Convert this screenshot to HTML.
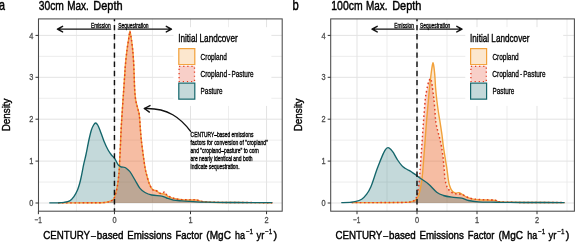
<!DOCTYPE html>
<html><head><meta charset="utf-8"><title>CENTURY-based Emissions Factor density</title>
<style>
html,body{margin:0;padding:0;background:#fff;}
body{width:575px;height:243px;overflow:hidden;font-family:"Liberation Sans",sans-serif;}
svg{display:block;filter:opacity(0.9999);}
text{font-family:"Liberation Sans",sans-serif;}
</style></head><body>
<svg width="575" height="243" viewBox="0 0 575 243" font-family='"Liberation Sans", sans-serif'>
<rect width="575" height="243" fill="#fff"/>
<g>
<g>
<rect x="38.50" y="18.90" width="243.70" height="192.30" fill="#fff"/>
<line x1="38.50" x2="282.20" y1="182.05" y2="182.05" stroke="#E9E9E9" stroke-width="0.8"/>
<line x1="38.50" x2="282.20" y1="140.15" y2="140.15" stroke="#E9E9E9" stroke-width="0.8"/>
<line x1="38.50" x2="282.20" y1="98.25" y2="98.25" stroke="#E9E9E9" stroke-width="0.8"/>
<line x1="38.50" x2="282.20" y1="56.35" y2="56.35" stroke="#E9E9E9" stroke-width="0.8"/>
<line x1="76.43" x2="76.43" y1="18.90" y2="211.20" stroke="#E9E9E9" stroke-width="0.8"/>
<line x1="152.47" x2="152.47" y1="18.90" y2="211.20" stroke="#E9E9E9" stroke-width="0.8"/>
<line x1="228.52" x2="228.52" y1="18.90" y2="211.20" stroke="#E9E9E9" stroke-width="0.8"/>
<line x1="38.50" x2="282.20" y1="203.00" y2="203.00" stroke="#E3E3E3" stroke-width="1"/>
<line x1="38.50" x2="282.20" y1="161.10" y2="161.10" stroke="#E3E3E3" stroke-width="1"/>
<line x1="38.50" x2="282.20" y1="119.20" y2="119.20" stroke="#E3E3E3" stroke-width="1"/>
<line x1="38.50" x2="282.20" y1="77.30" y2="77.30" stroke="#E3E3E3" stroke-width="1"/>
<line x1="38.50" x2="282.20" y1="35.40" y2="35.40" stroke="#E3E3E3" stroke-width="1"/>
<line x1="38.40" x2="38.40" y1="18.90" y2="211.20" stroke="#E3E3E3" stroke-width="1"/>
<line x1="114.45" x2="114.45" y1="18.90" y2="211.20" stroke="#E3E3E3" stroke-width="1"/>
<line x1="190.50" x2="190.50" y1="18.90" y2="211.20" stroke="#E3E3E3" stroke-width="1"/>
<line x1="266.55" x2="266.55" y1="18.90" y2="211.20" stroke="#E3E3E3" stroke-width="1"/>
<path d="M58.00,202.90 C63.33,202.88 82.20,202.87 90.00,202.80 C97.80,202.73 101.33,202.82 104.80,202.50 C108.27,202.18 109.27,201.57 110.80,200.90 C112.33,200.23 113.03,200.32 114.00,198.50 C114.97,196.68 115.97,192.53 116.60,190.00 C117.23,187.47 117.45,185.63 117.80,183.30 C118.15,180.97 118.47,178.22 118.70,176.00 C118.93,173.78 118.95,174.33 119.20,170.00 C119.45,165.67 119.88,156.67 120.20,150.00 C120.52,143.33 120.80,135.83 121.10,130.00 C121.40,124.17 121.68,120.00 122.00,115.00 C122.32,110.00 122.72,104.17 123.00,100.00 C123.28,95.83 123.43,93.88 123.70,90.00 C123.97,86.12 124.32,80.87 124.60,76.70 C124.88,72.53 125.00,69.45 125.40,65.00 C125.80,60.55 126.48,54.17 127.00,50.00 C127.52,45.83 128.08,42.83 128.50,40.00 C128.92,37.17 129.26,34.50 129.50,33.00 C129.74,31.50 129.80,31.00 129.95,31.00 C130.10,31.00 130.14,31.50 130.40,33.00 C130.66,34.50 131.12,37.17 131.50,40.00 C131.88,42.83 132.35,46.33 132.70,50.00 C133.05,53.67 133.35,57.55 133.60,62.00 C133.85,66.45 134.02,72.03 134.20,76.70 C134.38,81.37 134.45,86.12 134.70,90.00 C134.95,93.88 135.22,97.00 135.70,100.00 C136.18,103.00 137.00,105.50 137.60,108.00 C138.20,110.50 138.85,111.67 139.30,115.00 C139.75,118.33 139.97,123.83 140.30,128.00 C140.63,132.17 140.82,135.50 141.30,140.00 C141.78,144.50 142.57,150.33 143.20,155.00 C143.83,159.67 144.52,164.67 145.10,168.00 C145.68,171.33 146.02,172.43 146.70,175.00 C147.38,177.57 148.22,180.97 149.20,183.40 C150.18,185.83 151.33,188.35 152.60,189.60 C153.87,190.85 155.68,190.30 156.80,190.90 C157.92,191.50 157.93,192.62 159.30,193.20 C160.67,193.78 163.48,193.82 165.00,194.40 C166.52,194.98 166.98,196.03 168.40,196.70 C169.82,197.37 171.27,197.88 173.50,198.40 C175.73,198.92 178.88,199.53 181.80,199.80 C184.72,200.07 188.63,199.97 191.00,200.00 C193.37,200.03 194.20,199.77 196.00,200.00 C197.80,200.23 199.47,201.03 201.80,201.40 C204.13,201.77 204.30,202.02 210.00,202.20 C215.70,202.38 225.62,202.42 236.00,202.50 C246.38,202.58 266.25,202.67 272.30,202.70 L272.30,203.00 L58.00,203.00 Z" fill="#F2A13A" fill-opacity="0.25" stroke="none"/>
<path d="M58.00,202.90 C63.33,202.88 82.20,202.87 90.00,202.80 C97.80,202.73 101.33,202.82 104.80,202.50 C108.27,202.18 109.27,201.57 110.80,200.90 C112.33,200.23 113.03,200.32 114.00,198.50 C114.97,196.68 115.97,192.53 116.60,190.00 C117.23,187.47 117.45,185.63 117.80,183.30 C118.15,180.97 118.47,178.22 118.70,176.00 C118.93,173.78 118.95,174.33 119.20,170.00 C119.45,165.67 119.88,156.67 120.20,150.00 C120.52,143.33 120.80,135.83 121.10,130.00 C121.40,124.17 121.68,120.00 122.00,115.00 C122.32,110.00 122.72,104.17 123.00,100.00 C123.28,95.83 123.43,93.88 123.70,90.00 C123.97,86.12 124.32,80.87 124.60,76.70 C124.88,72.53 125.00,69.45 125.40,65.00 C125.80,60.55 126.48,54.17 127.00,50.00 C127.52,45.83 128.08,42.75 128.50,40.00 C128.92,37.25 129.26,34.90 129.50,33.50 C129.74,32.10 129.80,31.60 129.95,31.60 C130.10,31.60 130.14,32.10 130.40,33.50 C130.66,34.90 131.12,37.25 131.50,40.00 C131.88,42.75 132.35,46.33 132.70,50.00 C133.05,53.67 133.35,57.55 133.60,62.00 C133.85,66.45 134.02,72.03 134.20,76.70 C134.38,81.37 134.45,86.12 134.70,90.00 C134.95,93.88 135.22,97.00 135.70,100.00 C136.18,103.00 137.00,105.50 137.60,108.00 C138.20,110.50 138.85,111.67 139.30,115.00 C139.75,118.33 139.97,123.83 140.30,128.00 C140.63,132.17 140.82,135.50 141.30,140.00 C141.78,144.50 142.57,150.33 143.20,155.00 C143.83,159.67 144.52,164.67 145.10,168.00 C145.68,171.33 146.02,172.43 146.70,175.00 C147.38,177.57 148.27,180.98 149.20,183.40 C150.13,185.82 151.33,188.43 152.30,189.50 C153.27,190.57 154.05,189.38 155.00,189.80 C155.95,190.22 156.92,191.37 158.00,192.00 C159.08,192.63 160.38,193.62 161.50,193.60 C162.62,193.58 163.70,191.58 164.70,191.90 C165.70,192.22 166.03,194.45 167.50,195.50 C168.97,196.55 171.12,197.52 173.50,198.20 C175.88,198.88 178.88,199.33 181.80,199.60 C184.72,199.87 188.63,199.77 191.00,199.80 C193.37,199.83 194.20,199.53 196.00,199.80 C197.80,200.07 199.47,201.00 201.80,201.40 C204.13,201.80 204.30,202.02 210.00,202.20 C215.70,202.38 225.62,202.42 236.00,202.50 C246.38,202.58 266.25,202.67 272.30,202.70 L272.30,203.00 L58.00,203.00 Z" fill="#E23E22" fill-opacity="0.25" stroke="none"/>
<path d="M49.30,202.90 C50.75,202.88 55.55,202.88 58.00,202.80 C60.45,202.72 62.05,202.72 64.00,202.40 C65.95,202.08 68.05,201.85 69.70,200.90 C71.35,199.95 72.60,198.52 73.90,196.70 C75.20,194.88 76.53,192.23 77.50,190.00 C78.47,187.77 79.08,185.47 79.70,183.30 C80.32,181.13 80.50,180.32 81.20,177.00 C81.90,173.68 83.10,167.15 83.90,163.40 C84.70,159.65 85.17,158.40 86.00,154.50 C86.83,150.60 88.00,144.08 88.90,140.00 C89.80,135.92 90.62,132.50 91.40,130.00 C92.18,127.50 92.90,126.17 93.60,125.00 C94.30,123.83 94.92,123.00 95.60,123.00 C96.28,123.00 96.98,123.83 97.70,125.00 C98.42,126.17 98.85,127.30 99.90,130.00 C100.95,132.70 102.63,137.87 104.00,141.20 C105.37,144.53 106.85,147.70 108.10,150.00 C109.35,152.30 110.38,153.57 111.50,155.00 C112.62,156.43 113.65,156.90 114.80,158.60 C115.95,160.30 117.28,163.80 118.40,165.20 C119.52,166.60 120.40,166.62 121.50,167.00 C122.60,167.38 123.83,166.95 125.00,167.50 C126.17,168.05 127.58,169.47 128.50,170.30 C129.42,171.13 129.42,170.88 130.50,172.50 C131.58,174.12 133.42,177.35 135.00,180.00 C136.58,182.65 138.33,186.32 140.00,188.40 C141.67,190.48 143.03,191.40 145.00,192.50 C146.97,193.60 149.00,194.40 151.80,195.00 C154.60,195.60 159.32,195.60 161.80,196.10 C164.28,196.60 164.77,197.33 166.70,198.00 C168.63,198.67 170.88,199.62 173.40,200.10 C175.92,200.58 179.03,200.68 181.80,200.90 C184.57,201.12 185.83,201.18 190.00,201.40 C194.17,201.62 199.13,202.02 206.80,202.20 C214.47,202.38 225.08,202.42 236.00,202.50 C246.92,202.58 266.25,202.67 272.30,202.70 L272.30,203.00 L49.30,203.00 Z" fill="#14666B" fill-opacity="0.25" stroke="none"/>
<path d="M58.00,202.90 C63.33,202.88 82.20,202.87 90.00,202.80 C97.80,202.73 101.33,202.82 104.80,202.50 C108.27,202.18 109.27,201.57 110.80,200.90 C112.33,200.23 113.03,200.32 114.00,198.50 C114.97,196.68 115.97,192.53 116.60,190.00 C117.23,187.47 117.45,185.63 117.80,183.30 C118.15,180.97 118.47,178.22 118.70,176.00 C118.93,173.78 118.95,174.33 119.20,170.00 C119.45,165.67 119.88,156.67 120.20,150.00 C120.52,143.33 120.80,135.83 121.10,130.00 C121.40,124.17 121.68,120.00 122.00,115.00 C122.32,110.00 122.72,104.17 123.00,100.00 C123.28,95.83 123.43,93.88 123.70,90.00 C123.97,86.12 124.32,80.87 124.60,76.70 C124.88,72.53 125.00,69.45 125.40,65.00 C125.80,60.55 126.48,54.17 127.00,50.00 C127.52,45.83 128.08,42.83 128.50,40.00 C128.92,37.17 129.26,34.50 129.50,33.00 C129.74,31.50 129.80,31.00 129.95,31.00 C130.10,31.00 130.14,31.50 130.40,33.00 C130.66,34.50 131.12,37.17 131.50,40.00 C131.88,42.83 132.35,46.33 132.70,50.00 C133.05,53.67 133.35,57.55 133.60,62.00 C133.85,66.45 134.02,72.03 134.20,76.70 C134.38,81.37 134.45,86.12 134.70,90.00 C134.95,93.88 135.22,97.00 135.70,100.00 C136.18,103.00 137.00,105.50 137.60,108.00 C138.20,110.50 138.85,111.67 139.30,115.00 C139.75,118.33 139.97,123.83 140.30,128.00 C140.63,132.17 140.82,135.50 141.30,140.00 C141.78,144.50 142.57,150.33 143.20,155.00 C143.83,159.67 144.52,164.67 145.10,168.00 C145.68,171.33 146.02,172.43 146.70,175.00 C147.38,177.57 148.22,180.97 149.20,183.40 C150.18,185.83 151.33,188.35 152.60,189.60 C153.87,190.85 155.68,190.30 156.80,190.90 C157.92,191.50 157.93,192.62 159.30,193.20 C160.67,193.78 163.48,193.82 165.00,194.40 C166.52,194.98 166.98,196.03 168.40,196.70 C169.82,197.37 171.27,197.88 173.50,198.40 C175.73,198.92 178.88,199.53 181.80,199.80 C184.72,200.07 188.63,199.97 191.00,200.00 C193.37,200.03 194.20,199.77 196.00,200.00 C197.80,200.23 199.47,201.03 201.80,201.40 C204.13,201.77 204.30,202.02 210.00,202.20 C215.70,202.38 225.62,202.42 236.00,202.50 C246.38,202.58 266.25,202.67 272.30,202.70" fill="none" stroke="#F2A13A" stroke-width="1.40" stroke-linejoin="round"/>
<path d="M58.00,202.90 C63.33,202.88 82.20,202.87 90.00,202.80 C97.80,202.73 101.33,202.82 104.80,202.50 C108.27,202.18 109.27,201.57 110.80,200.90 C112.33,200.23 113.03,200.32 114.00,198.50 C114.97,196.68 115.97,192.53 116.60,190.00 C117.23,187.47 117.45,185.63 117.80,183.30 C118.15,180.97 118.47,178.22 118.70,176.00 C118.93,173.78 118.95,174.33 119.20,170.00 C119.45,165.67 119.88,156.67 120.20,150.00 C120.52,143.33 120.80,135.83 121.10,130.00 C121.40,124.17 121.68,120.00 122.00,115.00 C122.32,110.00 122.72,104.17 123.00,100.00 C123.28,95.83 123.43,93.88 123.70,90.00 C123.97,86.12 124.32,80.87 124.60,76.70 C124.88,72.53 125.00,69.45 125.40,65.00 C125.80,60.55 126.48,54.17 127.00,50.00 C127.52,45.83 128.08,42.75 128.50,40.00 C128.92,37.25 129.26,34.90 129.50,33.50 C129.74,32.10 129.80,31.60 129.95,31.60 C130.10,31.60 130.14,32.10 130.40,33.50 C130.66,34.90 131.12,37.25 131.50,40.00 C131.88,42.75 132.35,46.33 132.70,50.00 C133.05,53.67 133.35,57.55 133.60,62.00 C133.85,66.45 134.02,72.03 134.20,76.70 C134.38,81.37 134.45,86.12 134.70,90.00 C134.95,93.88 135.22,97.00 135.70,100.00 C136.18,103.00 137.00,105.50 137.60,108.00 C138.20,110.50 138.85,111.67 139.30,115.00 C139.75,118.33 139.97,123.83 140.30,128.00 C140.63,132.17 140.82,135.50 141.30,140.00 C141.78,144.50 142.57,150.33 143.20,155.00 C143.83,159.67 144.52,164.67 145.10,168.00 C145.68,171.33 146.02,172.43 146.70,175.00 C147.38,177.57 148.27,180.98 149.20,183.40 C150.13,185.82 151.33,188.43 152.30,189.50 C153.27,190.57 154.05,189.38 155.00,189.80 C155.95,190.22 156.92,191.37 158.00,192.00 C159.08,192.63 160.38,193.62 161.50,193.60 C162.62,193.58 163.70,191.58 164.70,191.90 C165.70,192.22 166.03,194.45 167.50,195.50 C168.97,196.55 171.12,197.52 173.50,198.20 C175.88,198.88 178.88,199.33 181.80,199.60 C184.72,199.87 188.63,199.77 191.00,199.80 C193.37,199.83 194.20,199.53 196.00,199.80 C197.80,200.07 199.47,201.00 201.80,201.40 C204.13,201.80 204.30,202.02 210.00,202.20 C215.70,202.38 225.62,202.42 236.00,202.50 C246.38,202.58 266.25,202.67 272.30,202.70" fill="none" stroke="#E23E22" stroke-width="1.45" stroke-dasharray="1.6 2.5"/>
<path d="M49.30,202.90 C50.75,202.88 55.55,202.88 58.00,202.80 C60.45,202.72 62.05,202.72 64.00,202.40 C65.95,202.08 68.05,201.85 69.70,200.90 C71.35,199.95 72.60,198.52 73.90,196.70 C75.20,194.88 76.53,192.23 77.50,190.00 C78.47,187.77 79.08,185.47 79.70,183.30 C80.32,181.13 80.50,180.32 81.20,177.00 C81.90,173.68 83.10,167.15 83.90,163.40 C84.70,159.65 85.17,158.40 86.00,154.50 C86.83,150.60 88.00,144.08 88.90,140.00 C89.80,135.92 90.62,132.50 91.40,130.00 C92.18,127.50 92.90,126.17 93.60,125.00 C94.30,123.83 94.92,123.00 95.60,123.00 C96.28,123.00 96.98,123.83 97.70,125.00 C98.42,126.17 98.85,127.30 99.90,130.00 C100.95,132.70 102.63,137.87 104.00,141.20 C105.37,144.53 106.85,147.70 108.10,150.00 C109.35,152.30 110.38,153.57 111.50,155.00 C112.62,156.43 113.65,156.90 114.80,158.60 C115.95,160.30 117.28,163.80 118.40,165.20 C119.52,166.60 120.40,166.62 121.50,167.00 C122.60,167.38 123.83,166.95 125.00,167.50 C126.17,168.05 127.58,169.47 128.50,170.30 C129.42,171.13 129.42,170.88 130.50,172.50 C131.58,174.12 133.42,177.35 135.00,180.00 C136.58,182.65 138.33,186.32 140.00,188.40 C141.67,190.48 143.03,191.40 145.00,192.50 C146.97,193.60 149.00,194.40 151.80,195.00 C154.60,195.60 159.32,195.60 161.80,196.10 C164.28,196.60 164.77,197.33 166.70,198.00 C168.63,198.67 170.88,199.62 173.40,200.10 C175.92,200.58 179.03,200.68 181.80,200.90 C184.57,201.12 185.83,201.18 190.00,201.40 C194.17,201.62 199.13,202.02 206.80,202.20 C214.47,202.38 225.08,202.42 236.00,202.50 C246.92,202.58 266.25,202.67 272.30,202.70" fill="none" stroke="#14666B" stroke-width="1.35" stroke-linejoin="round"/>
<line x1="114.45" x2="114.45" y1="18.90" y2="211.20" stroke="#111" stroke-width="1.45" stroke-dasharray="5.4 3.76" stroke-dashoffset="3.1"/>
<g stroke="#111" stroke-width="1.4" fill="none" stroke-linecap="round" stroke-linejoin="round">
<path d="M110.65,29.10 L57.41,29.10 M62.61,26.30 L57.41,29.10 L62.61,31.90"/>
<path d="M118.25,29.10 L171.49,29.10 M166.29,26.30 L171.49,29.10 L166.29,31.90"/>
</g>
<text transform="translate(90.95,27.80) scale(0.7587,1)" font-size="6.40" fill="#000" stroke="#000" stroke-width="0.30" stroke-linejoin="round">Emission</text>
<text transform="translate(118.25,27.80) scale(0.7697,1)" font-size="6.40" fill="#000" stroke="#000" stroke-width="0.30" stroke-linejoin="round">Sequestration</text>
<rect x="173.50" y="27.2" width="97.9" height="78.7" fill="#fff"/>
<text transform="translate(178.20,41.80) scale(0.7509,1)" font-size="10.90" fill="#000" stroke="#000" stroke-width="0.37" stroke-linejoin="round">Initial Landcover</text>
<rect x="178.20" y="48.00" width="17.2" height="17.25" fill="#fff"/>
<rect x="178.80" y="48.60" width="16.0" height="16.05" fill="#F2A13A" fill-opacity="0.25" stroke="none"/>
<rect x="178.80" y="48.60" width="16.0" height="16.05" fill="none" stroke="#F2A13A" stroke-width="1.2"/>
<text transform="translate(200.60,59.90) scale(0.7449,1)" font-size="8.70" fill="#000" stroke="#000" stroke-width="0.30" stroke-linejoin="round">Cropland</text>
<rect x="178.20" y="65.25" width="17.2" height="17.25" fill="#fff"/>
<rect x="178.80" y="65.85" width="16.0" height="16.05" fill="#E23E22" fill-opacity="0.25" stroke="none"/>
<rect x="179.10" y="66.45" width="15.4" height="15.1" fill="none" stroke="#E23E22" stroke-width="1.3" stroke-dasharray="1.2 2.9"/>
<text transform="translate(200.40,77.15) scale(0.7563,1)" font-size="8.70" fill="#000" stroke="#000" stroke-width="0.30" stroke-linejoin="round">Cropland</text>
<text transform="translate(228.20,77.15) scale(0.7594,1)" font-size="8.70" fill="#000" stroke="#000" stroke-width="0.30" stroke-linejoin="round">-</text>
<text transform="translate(231.50,77.15) scale(0.7405,1)" font-size="8.70" fill="#000" stroke="#000" stroke-width="0.30" stroke-linejoin="round">Pasture</text>
<rect x="178.20" y="82.50" width="17.2" height="17.25" fill="#fff"/>
<rect x="178.80" y="83.10" width="16.0" height="16.05" fill="#14666B" fill-opacity="0.25" stroke="none"/>
<rect x="178.80" y="83.10" width="16.0" height="16.05" fill="none" stroke="#14666B" stroke-width="1.2"/>
<text transform="translate(200.60,94.40) scale(0.7338,1)" font-size="8.70" fill="#000" stroke="#000" stroke-width="0.30" stroke-linejoin="round">Pasture</text>
<rect x="38.50" y="18.90" width="243.70" height="192.30" fill="none" stroke="#4A4A4A" stroke-width="1.05"/>
<line x1="35.50" x2="38.50" y1="203.00" y2="203.00" stroke="#333" stroke-width="1"/>
<text transform="translate(29.20,206.15) scale(0.8103,1)" font-size="9.10" fill="#4D4D4D" stroke="#4D4D4D" stroke-width="0.31" stroke-linejoin="round">0</text>
<line x1="35.50" x2="38.50" y1="161.10" y2="161.10" stroke="#333" stroke-width="1"/>
<text transform="translate(29.20,164.25) scale(0.8103,1)" font-size="9.10" fill="#4D4D4D" stroke="#4D4D4D" stroke-width="0.31" stroke-linejoin="round">1</text>
<line x1="35.50" x2="38.50" y1="119.20" y2="119.20" stroke="#333" stroke-width="1"/>
<text transform="translate(29.20,122.35) scale(0.8103,1)" font-size="9.10" fill="#4D4D4D" stroke="#4D4D4D" stroke-width="0.31" stroke-linejoin="round">2</text>
<line x1="35.50" x2="38.50" y1="77.30" y2="77.30" stroke="#333" stroke-width="1"/>
<text transform="translate(29.20,80.45) scale(0.8103,1)" font-size="9.10" fill="#4D4D4D" stroke="#4D4D4D" stroke-width="0.31" stroke-linejoin="round">3</text>
<line x1="35.50" x2="38.50" y1="35.40" y2="35.40" stroke="#333" stroke-width="1"/>
<text transform="translate(29.20,38.55) scale(0.8103,1)" font-size="9.10" fill="#4D4D4D" stroke="#4D4D4D" stroke-width="0.31" stroke-linejoin="round">4</text>
<line x1="38.40" x2="38.40" y1="211.20" y2="214.20" stroke="#333" stroke-width="1"/>
<text transform="translate(34.40,223.20) scale(0.7133,1)" font-size="9.10" fill="#4D4D4D" stroke="#4D4D4D" stroke-width="0.31" stroke-linejoin="round">−1</text>
<line x1="114.45" x2="114.45" y1="211.20" y2="214.20" stroke="#333" stroke-width="1"/>
<text transform="translate(112.40,223.20) scale(0.8103,1)" font-size="9.10" fill="#4D4D4D" stroke="#4D4D4D" stroke-width="0.31" stroke-linejoin="round">0</text>
<line x1="190.50" x2="190.50" y1="211.20" y2="214.20" stroke="#333" stroke-width="1"/>
<text transform="translate(188.45,223.20) scale(0.8103,1)" font-size="9.10" fill="#4D4D4D" stroke="#4D4D4D" stroke-width="0.31" stroke-linejoin="round">1</text>
<line x1="266.55" x2="266.55" y1="211.20" y2="214.20" stroke="#333" stroke-width="1"/>
<text transform="translate(264.50,223.20) scale(0.8103,1)" font-size="9.10" fill="#4D4D4D" stroke="#4D4D4D" stroke-width="0.31" stroke-linejoin="round">2</text>
<text transform="translate(38.75,10.05) scale(0.7793,1)" font-size="13.20" fill="#000" stroke="#000" stroke-width="0.45" stroke-linejoin="round">30cm</text>
<text transform="translate(67.30,10.05) scale(0.7516,1)" font-size="13.20" fill="#000" stroke="#000" stroke-width="0.45" stroke-linejoin="round">Max.</text>
<text transform="translate(93.30,10.05) scale(0.8320,1)" font-size="13.20" fill="#000" stroke="#000" stroke-width="0.45" stroke-linejoin="round">Depth</text>
<text transform="translate(43.30,239.30) scale(0.8526,1)" font-size="11.40" fill="#000" stroke="#000" stroke-width="0.42" stroke-linejoin="round">CENTURY</text>
<text transform="translate(91.00,239.30) scale(0.7731,1)" font-size="11.40" fill="#000" stroke="#000" stroke-width="0.42" stroke-linejoin="round">–</text>
<text transform="translate(96.80,239.30) scale(0.8595,1)" font-size="11.40" fill="#000" stroke="#000" stroke-width="0.42" stroke-linejoin="round">based</text>
<text transform="translate(127.20,239.30) scale(0.8566,1)" font-size="11.40" fill="#000" stroke="#000" stroke-width="0.42" stroke-linejoin="round">Emissions</text>
<text transform="translate(175.50,239.30) scale(0.8295,1)" font-size="11.40" fill="#000" stroke="#000" stroke-width="0.42" stroke-linejoin="round">Factor</text>
<text transform="translate(206.30,239.30) scale(0.8829,1)" font-size="11.40" fill="#000" stroke="#000" stroke-width="0.42" stroke-linejoin="round">(MgC</text>
<text transform="translate(235.10,239.30) scale(0.7881,1)" font-size="11.40" fill="#000" stroke="#000" stroke-width="0.42" stroke-linejoin="round">ha</text>
<text transform="translate(245.90,233.50) scale(0.8097,1)" font-size="7.80" fill="#000" stroke="#000" stroke-width="0.30" stroke-linejoin="round">−1</text>
<text transform="translate(256.40,239.30) scale(0.8319,1)" font-size="11.40" fill="#000" stroke="#000" stroke-width="0.42" stroke-linejoin="round">yr</text>
<text transform="translate(265.10,233.50) scale(0.8097,1)" font-size="7.80" fill="#000" stroke="#000" stroke-width="0.30" stroke-linejoin="round">−1</text>
<text transform="translate(273.50,239.30) scale(0.9483,1)" font-size="11.40" fill="#000" stroke="#000" stroke-width="0.42" stroke-linejoin="round">)</text>
<text transform="translate(10.10,114.90) rotate(-90)" font-size="11.4" fill="#000" text-anchor="middle" textLength="32.8" lengthAdjust="spacingAndGlyphs" stroke="#000" stroke-width="0.4">Density</text>
</g>
<g>
<rect x="330.70" y="18.90" width="243.70" height="192.30" fill="#fff"/>
<line x1="330.70" x2="574.40" y1="182.05" y2="182.05" stroke="#E9E9E9" stroke-width="0.8"/>
<line x1="330.70" x2="574.40" y1="140.15" y2="140.15" stroke="#E9E9E9" stroke-width="0.8"/>
<line x1="330.70" x2="574.40" y1="98.25" y2="98.25" stroke="#E9E9E9" stroke-width="0.8"/>
<line x1="330.70" x2="574.40" y1="56.35" y2="56.35" stroke="#E9E9E9" stroke-width="0.8"/>
<line x1="387.00" x2="387.00" y1="18.90" y2="211.20" stroke="#E9E9E9" stroke-width="0.8"/>
<line x1="447.00" x2="447.00" y1="18.90" y2="211.20" stroke="#E9E9E9" stroke-width="0.8"/>
<line x1="507.00" x2="507.00" y1="18.90" y2="211.20" stroke="#E9E9E9" stroke-width="0.8"/>
<line x1="567.00" x2="567.00" y1="18.90" y2="211.20" stroke="#E9E9E9" stroke-width="0.8"/>
<line x1="330.70" x2="574.40" y1="203.00" y2="203.00" stroke="#E3E3E3" stroke-width="1"/>
<line x1="330.70" x2="574.40" y1="161.10" y2="161.10" stroke="#E3E3E3" stroke-width="1"/>
<line x1="330.70" x2="574.40" y1="119.20" y2="119.20" stroke="#E3E3E3" stroke-width="1"/>
<line x1="330.70" x2="574.40" y1="77.30" y2="77.30" stroke="#E3E3E3" stroke-width="1"/>
<line x1="330.70" x2="574.40" y1="35.40" y2="35.40" stroke="#E3E3E3" stroke-width="1"/>
<line x1="357.00" x2="357.00" y1="18.90" y2="211.20" stroke="#E3E3E3" stroke-width="1"/>
<line x1="417.00" x2="417.00" y1="18.90" y2="211.20" stroke="#E3E3E3" stroke-width="1"/>
<line x1="477.00" x2="477.00" y1="18.90" y2="211.20" stroke="#E3E3E3" stroke-width="1"/>
<line x1="537.00" x2="537.00" y1="18.90" y2="211.20" stroke="#E3E3E3" stroke-width="1"/>
<path d="M351.70,202.60 C356.42,202.60 371.12,202.63 380.00,202.60 C388.88,202.57 399.98,202.52 405.00,202.40 C410.02,202.28 408.70,202.10 410.10,201.90 C411.50,201.70 412.42,201.62 413.40,201.20 C414.38,200.78 415.20,200.18 416.00,199.40 C416.80,198.62 417.60,197.73 418.20,196.50 C418.80,195.27 419.15,193.75 419.60,192.00 C420.05,190.25 420.53,188.00 420.90,186.00 C421.27,184.00 421.53,182.00 421.80,180.00 C422.07,178.00 422.30,176.00 422.50,174.00 C422.70,172.00 422.63,172.67 423.00,168.00 C423.37,163.33 424.13,153.50 424.70,146.00 C425.27,138.50 425.78,130.67 426.40,123.00 C427.02,115.33 427.88,105.83 428.40,100.00 C428.92,94.17 429.15,91.50 429.50,88.00 C429.85,84.50 430.15,82.00 430.50,79.00 C430.85,76.00 431.27,72.42 431.60,70.00 C431.93,67.58 432.27,65.70 432.50,64.50 C432.73,63.30 432.83,62.80 433.00,62.80 C433.17,62.80 433.28,63.30 433.50,64.50 C433.72,65.70 434.05,67.75 434.30,70.00 C434.55,72.25 434.78,75.00 435.00,78.00 C435.22,81.00 435.30,84.33 435.60,88.00 C435.90,91.67 436.33,96.00 436.80,100.00 C437.27,104.00 437.83,108.17 438.40,112.00 C438.97,115.83 439.60,119.17 440.20,123.00 C440.80,126.83 441.48,131.17 442.00,135.00 C442.52,138.83 442.80,142.33 443.30,146.00 C443.80,149.67 444.42,153.33 445.00,157.00 C445.58,160.67 446.28,164.50 446.80,168.00 C447.32,171.50 447.68,175.22 448.10,178.00 C448.52,180.78 448.68,182.62 449.30,184.70 C449.92,186.78 450.83,189.12 451.80,190.50 C452.77,191.88 453.85,192.63 455.10,193.00 C456.35,193.37 458.05,192.42 459.30,192.70 C460.55,192.98 461.35,193.95 462.60,194.70 C463.85,195.45 465.27,196.50 466.80,197.20 C468.33,197.90 469.85,198.48 471.80,198.90 C473.75,199.32 475.30,199.48 478.50,199.70 C481.70,199.92 488.13,200.07 491.00,200.20 C493.87,200.33 494.08,200.20 495.70,200.50 C497.32,200.80 494.98,201.67 500.70,202.00 C506.42,202.33 519.37,202.40 530.00,202.50 C540.63,202.60 558.75,202.58 564.50,202.60 L564.50,203.00 L351.70,203.00 Z" fill="#F2A13A" fill-opacity="0.25" stroke="none"/>
<path d="M351.70,202.60 C356.42,202.60 371.12,202.63 380.00,202.60 C388.88,202.57 400.00,202.50 405.00,202.40 C410.00,202.30 408.58,202.23 410.00,202.00 C411.42,201.77 412.50,201.58 413.50,201.00 C414.50,200.42 415.32,199.83 416.00,198.50 C416.68,197.17 417.15,195.08 417.60,193.00 C418.05,190.92 418.38,188.50 418.70,186.00 C419.02,183.50 419.27,180.67 419.50,178.00 C419.73,175.33 419.72,175.33 420.10,170.00 C420.48,164.67 421.25,153.83 421.80,146.00 C422.35,138.17 422.83,130.67 423.40,123.00 C423.97,115.33 424.70,105.17 425.20,100.00 C425.70,94.83 425.97,94.50 426.40,92.00 C426.83,89.50 427.33,86.92 427.80,85.00 C428.27,83.08 428.77,81.55 429.20,80.50 C429.63,79.45 430.05,78.70 430.40,78.70 C430.75,78.70 431.02,79.45 431.30,80.50 C431.58,81.55 431.82,83.08 432.10,85.00 C432.38,86.92 432.68,89.50 433.00,92.00 C433.32,94.50 433.67,96.67 434.00,100.00 C434.33,103.33 434.70,108.33 435.00,112.00 C435.30,115.67 435.38,119.00 435.80,122.00 C436.22,125.00 436.87,127.33 437.50,130.00 C438.13,132.67 438.95,135.33 439.60,138.00 C440.25,140.67 440.83,142.83 441.40,146.00 C441.97,149.17 442.55,153.33 443.00,157.00 C443.45,160.67 443.75,164.22 444.10,168.00 C444.45,171.78 444.52,176.37 445.10,179.70 C445.68,183.03 446.35,185.78 447.60,188.00 C448.85,190.22 451.03,192.00 452.60,193.00 C454.17,194.00 455.47,193.77 457.00,194.00 C458.53,194.23 460.17,193.90 461.80,194.40 C463.43,194.90 465.10,196.28 466.80,197.00 C468.50,197.72 470.05,198.28 472.00,198.70 C473.95,199.12 475.33,199.28 478.50,199.50 C481.67,199.72 488.08,199.85 491.00,200.00 C493.92,200.15 494.38,200.07 496.00,200.40 C497.62,200.73 495.03,201.65 500.70,202.00 C506.37,202.35 519.37,202.40 530.00,202.50 C540.63,202.60 558.75,202.58 564.50,202.60 L564.50,203.00 L351.70,203.00 Z" fill="#E23E22" fill-opacity="0.25" stroke="none"/>
<path d="M341.30,202.60 C342.75,202.55 347.72,202.45 350.00,202.30 C352.28,202.15 353.05,202.22 355.00,201.70 C356.95,201.18 359.75,200.45 361.70,199.20 C363.65,197.95 365.17,196.28 366.70,194.20 C368.23,192.12 369.65,189.48 370.90,186.70 C372.15,183.92 373.23,180.28 374.20,177.50 C375.17,174.72 375.87,172.35 376.70,170.00 C377.53,167.65 378.08,166.17 379.20,163.40 C380.32,160.63 382.33,155.75 383.40,153.40 C384.47,151.05 384.82,150.27 385.60,149.30 C386.38,148.33 387.22,147.58 388.10,147.60 C388.98,147.62 390.02,148.55 390.90,149.40 C391.78,150.25 392.28,150.93 393.40,152.70 C394.52,154.47 396.20,157.85 397.60,160.00 C399.00,162.15 400.57,164.23 401.80,165.60 C403.03,166.97 403.88,167.43 405.00,168.20 C406.12,168.97 407.33,169.52 408.50,170.20 C409.67,170.88 410.83,171.57 412.00,172.30 C413.17,173.03 414.17,173.65 415.50,174.60 C416.83,175.55 417.85,176.45 420.00,178.00 C422.15,179.55 425.62,181.53 428.40,183.90 C431.18,186.27 434.20,190.27 436.70,192.20 C439.20,194.13 440.88,194.67 443.40,195.50 C445.92,196.33 448.73,196.77 451.80,197.20 C454.87,197.63 459.02,197.55 461.80,198.10 C464.58,198.65 465.72,199.88 468.50,200.50 C471.28,201.12 474.75,201.52 478.50,201.80 C482.25,202.08 487.30,202.12 491.00,202.20 C494.70,202.28 494.20,202.25 500.70,202.30 C507.20,202.35 519.37,202.45 530.00,202.50 C540.63,202.55 558.75,202.58 564.50,202.60 L564.50,203.00 L341.30,203.00 Z" fill="#14666B" fill-opacity="0.25" stroke="none"/>
<path d="M351.70,202.60 C356.42,202.60 371.12,202.63 380.00,202.60 C388.88,202.57 399.98,202.52 405.00,202.40 C410.02,202.28 408.70,202.10 410.10,201.90 C411.50,201.70 412.42,201.62 413.40,201.20 C414.38,200.78 415.20,200.18 416.00,199.40 C416.80,198.62 417.60,197.73 418.20,196.50 C418.80,195.27 419.15,193.75 419.60,192.00 C420.05,190.25 420.53,188.00 420.90,186.00 C421.27,184.00 421.53,182.00 421.80,180.00 C422.07,178.00 422.30,176.00 422.50,174.00 C422.70,172.00 422.63,172.67 423.00,168.00 C423.37,163.33 424.13,153.50 424.70,146.00 C425.27,138.50 425.78,130.67 426.40,123.00 C427.02,115.33 427.88,105.83 428.40,100.00 C428.92,94.17 429.15,91.50 429.50,88.00 C429.85,84.50 430.15,82.00 430.50,79.00 C430.85,76.00 431.27,72.42 431.60,70.00 C431.93,67.58 432.27,65.70 432.50,64.50 C432.73,63.30 432.83,62.80 433.00,62.80 C433.17,62.80 433.28,63.30 433.50,64.50 C433.72,65.70 434.05,67.75 434.30,70.00 C434.55,72.25 434.78,75.00 435.00,78.00 C435.22,81.00 435.30,84.33 435.60,88.00 C435.90,91.67 436.33,96.00 436.80,100.00 C437.27,104.00 437.83,108.17 438.40,112.00 C438.97,115.83 439.60,119.17 440.20,123.00 C440.80,126.83 441.48,131.17 442.00,135.00 C442.52,138.83 442.80,142.33 443.30,146.00 C443.80,149.67 444.42,153.33 445.00,157.00 C445.58,160.67 446.28,164.50 446.80,168.00 C447.32,171.50 447.68,175.22 448.10,178.00 C448.52,180.78 448.68,182.62 449.30,184.70 C449.92,186.78 450.83,189.12 451.80,190.50 C452.77,191.88 453.85,192.63 455.10,193.00 C456.35,193.37 458.05,192.42 459.30,192.70 C460.55,192.98 461.35,193.95 462.60,194.70 C463.85,195.45 465.27,196.50 466.80,197.20 C468.33,197.90 469.85,198.48 471.80,198.90 C473.75,199.32 475.30,199.48 478.50,199.70 C481.70,199.92 488.13,200.07 491.00,200.20 C493.87,200.33 494.08,200.20 495.70,200.50 C497.32,200.80 494.98,201.67 500.70,202.00 C506.42,202.33 519.37,202.40 530.00,202.50 C540.63,202.60 558.75,202.58 564.50,202.60" fill="none" stroke="#F2A13A" stroke-width="1.40" stroke-linejoin="round"/>
<path d="M351.70,202.60 C356.42,202.60 371.12,202.63 380.00,202.60 C388.88,202.57 400.00,202.50 405.00,202.40 C410.00,202.30 408.58,202.23 410.00,202.00 C411.42,201.77 412.50,201.58 413.50,201.00 C414.50,200.42 415.32,199.83 416.00,198.50 C416.68,197.17 417.15,195.08 417.60,193.00 C418.05,190.92 418.38,188.50 418.70,186.00 C419.02,183.50 419.27,180.67 419.50,178.00 C419.73,175.33 419.72,175.33 420.10,170.00 C420.48,164.67 421.25,153.83 421.80,146.00 C422.35,138.17 422.83,130.67 423.40,123.00 C423.97,115.33 424.70,105.17 425.20,100.00 C425.70,94.83 425.97,94.50 426.40,92.00 C426.83,89.50 427.33,86.92 427.80,85.00 C428.27,83.08 428.77,81.55 429.20,80.50 C429.63,79.45 430.05,78.70 430.40,78.70 C430.75,78.70 431.02,79.45 431.30,80.50 C431.58,81.55 431.82,83.08 432.10,85.00 C432.38,86.92 432.68,89.50 433.00,92.00 C433.32,94.50 433.67,96.67 434.00,100.00 C434.33,103.33 434.70,108.33 435.00,112.00 C435.30,115.67 435.38,119.00 435.80,122.00 C436.22,125.00 436.87,127.33 437.50,130.00 C438.13,132.67 438.95,135.33 439.60,138.00 C440.25,140.67 440.83,142.83 441.40,146.00 C441.97,149.17 442.55,153.33 443.00,157.00 C443.45,160.67 443.75,164.22 444.10,168.00 C444.45,171.78 444.52,176.37 445.10,179.70 C445.68,183.03 446.35,185.78 447.60,188.00 C448.85,190.22 451.03,192.00 452.60,193.00 C454.17,194.00 455.47,193.77 457.00,194.00 C458.53,194.23 460.17,193.90 461.80,194.40 C463.43,194.90 465.10,196.28 466.80,197.00 C468.50,197.72 470.05,198.28 472.00,198.70 C473.95,199.12 475.33,199.28 478.50,199.50 C481.67,199.72 488.08,199.85 491.00,200.00 C493.92,200.15 494.38,200.07 496.00,200.40 C497.62,200.73 495.03,201.65 500.70,202.00 C506.37,202.35 519.37,202.40 530.00,202.50 C540.63,202.60 558.75,202.58 564.50,202.60" fill="none" stroke="#E23E22" stroke-width="1.45" stroke-dasharray="1.6 2.5"/>
<path d="M341.30,202.60 C342.75,202.55 347.72,202.45 350.00,202.30 C352.28,202.15 353.05,202.22 355.00,201.70 C356.95,201.18 359.75,200.45 361.70,199.20 C363.65,197.95 365.17,196.28 366.70,194.20 C368.23,192.12 369.65,189.48 370.90,186.70 C372.15,183.92 373.23,180.28 374.20,177.50 C375.17,174.72 375.87,172.35 376.70,170.00 C377.53,167.65 378.08,166.17 379.20,163.40 C380.32,160.63 382.33,155.75 383.40,153.40 C384.47,151.05 384.82,150.27 385.60,149.30 C386.38,148.33 387.22,147.58 388.10,147.60 C388.98,147.62 390.02,148.55 390.90,149.40 C391.78,150.25 392.28,150.93 393.40,152.70 C394.52,154.47 396.20,157.85 397.60,160.00 C399.00,162.15 400.57,164.23 401.80,165.60 C403.03,166.97 403.88,167.43 405.00,168.20 C406.12,168.97 407.33,169.52 408.50,170.20 C409.67,170.88 410.83,171.57 412.00,172.30 C413.17,173.03 414.17,173.65 415.50,174.60 C416.83,175.55 417.85,176.45 420.00,178.00 C422.15,179.55 425.62,181.53 428.40,183.90 C431.18,186.27 434.20,190.27 436.70,192.20 C439.20,194.13 440.88,194.67 443.40,195.50 C445.92,196.33 448.73,196.77 451.80,197.20 C454.87,197.63 459.02,197.55 461.80,198.10 C464.58,198.65 465.72,199.88 468.50,200.50 C471.28,201.12 474.75,201.52 478.50,201.80 C482.25,202.08 487.30,202.12 491.00,202.20 C494.70,202.28 494.20,202.25 500.70,202.30 C507.20,202.35 519.37,202.45 530.00,202.50 C540.63,202.55 558.75,202.58 564.50,202.60" fill="none" stroke="#14666B" stroke-width="1.35" stroke-linejoin="round"/>
<line x1="417.00" x2="417.00" y1="18.90" y2="211.20" stroke="#111" stroke-width="1.45" stroke-dasharray="5.4 3.76" stroke-dashoffset="3.1"/>
<g stroke="#111" stroke-width="1.4" fill="none" stroke-linecap="round" stroke-linejoin="round">
<path d="M414.00,29.10 L372.00,29.10 M377.20,26.30 L372.00,29.10 L377.20,31.90"/>
<path d="M420.00,29.10 L462.00,29.10 M456.80,26.30 L462.00,29.10 L456.80,31.90"/>
</g>
<text transform="translate(394.30,27.80) scale(0.7587,1)" font-size="6.40" fill="#000" stroke="#000" stroke-width="0.30" stroke-linejoin="round">Emission</text>
<text transform="translate(420.00,27.80) scale(0.7697,1)" font-size="6.40" fill="#000" stroke="#000" stroke-width="0.30" stroke-linejoin="round">Sequestration</text>
<rect x="465.30" y="27.2" width="97.9" height="78.7" fill="#fff"/>
<text transform="translate(470.00,41.80) scale(0.7509,1)" font-size="10.90" fill="#000" stroke="#000" stroke-width="0.37" stroke-linejoin="round">Initial Landcover</text>
<rect x="470.00" y="48.00" width="17.2" height="17.25" fill="#fff"/>
<rect x="470.60" y="48.60" width="16.0" height="16.05" fill="#F2A13A" fill-opacity="0.25" stroke="none"/>
<rect x="470.60" y="48.60" width="16.0" height="16.05" fill="none" stroke="#F2A13A" stroke-width="1.2"/>
<text transform="translate(492.40,59.90) scale(0.7449,1)" font-size="8.70" fill="#000" stroke="#000" stroke-width="0.30" stroke-linejoin="round">Cropland</text>
<rect x="470.00" y="65.25" width="17.2" height="17.25" fill="#fff"/>
<rect x="470.60" y="65.85" width="16.0" height="16.05" fill="#E23E22" fill-opacity="0.25" stroke="none"/>
<rect x="470.90" y="66.45" width="15.4" height="15.1" fill="none" stroke="#E23E22" stroke-width="1.3" stroke-dasharray="1.2 2.9"/>
<text transform="translate(492.20,77.15) scale(0.7563,1)" font-size="8.70" fill="#000" stroke="#000" stroke-width="0.30" stroke-linejoin="round">Cropland</text>
<text transform="translate(520.00,77.15) scale(0.7594,1)" font-size="8.70" fill="#000" stroke="#000" stroke-width="0.30" stroke-linejoin="round">-</text>
<text transform="translate(523.30,77.15) scale(0.7405,1)" font-size="8.70" fill="#000" stroke="#000" stroke-width="0.30" stroke-linejoin="round">Pasture</text>
<rect x="470.00" y="82.50" width="17.2" height="17.25" fill="#fff"/>
<rect x="470.60" y="83.10" width="16.0" height="16.05" fill="#14666B" fill-opacity="0.25" stroke="none"/>
<rect x="470.60" y="83.10" width="16.0" height="16.05" fill="none" stroke="#14666B" stroke-width="1.2"/>
<text transform="translate(492.40,94.40) scale(0.7338,1)" font-size="8.70" fill="#000" stroke="#000" stroke-width="0.30" stroke-linejoin="round">Pasture</text>
<rect x="330.70" y="18.90" width="243.70" height="192.30" fill="none" stroke="#4A4A4A" stroke-width="1.05"/>
<line x1="327.70" x2="330.70" y1="203.00" y2="203.00" stroke="#333" stroke-width="1"/>
<text transform="translate(321.40,206.15) scale(0.8103,1)" font-size="9.10" fill="#4D4D4D" stroke="#4D4D4D" stroke-width="0.31" stroke-linejoin="round">0</text>
<line x1="327.70" x2="330.70" y1="161.10" y2="161.10" stroke="#333" stroke-width="1"/>
<text transform="translate(321.40,164.25) scale(0.8103,1)" font-size="9.10" fill="#4D4D4D" stroke="#4D4D4D" stroke-width="0.31" stroke-linejoin="round">1</text>
<line x1="327.70" x2="330.70" y1="119.20" y2="119.20" stroke="#333" stroke-width="1"/>
<text transform="translate(321.40,122.35) scale(0.8103,1)" font-size="9.10" fill="#4D4D4D" stroke="#4D4D4D" stroke-width="0.31" stroke-linejoin="round">2</text>
<line x1="327.70" x2="330.70" y1="77.30" y2="77.30" stroke="#333" stroke-width="1"/>
<text transform="translate(321.40,80.45) scale(0.8103,1)" font-size="9.10" fill="#4D4D4D" stroke="#4D4D4D" stroke-width="0.31" stroke-linejoin="round">3</text>
<line x1="327.70" x2="330.70" y1="35.40" y2="35.40" stroke="#333" stroke-width="1"/>
<text transform="translate(321.40,38.55) scale(0.8103,1)" font-size="9.10" fill="#4D4D4D" stroke="#4D4D4D" stroke-width="0.31" stroke-linejoin="round">4</text>
<line x1="357.00" x2="357.00" y1="211.20" y2="214.20" stroke="#333" stroke-width="1"/>
<text transform="translate(353.00,223.20) scale(0.7133,1)" font-size="9.10" fill="#4D4D4D" stroke="#4D4D4D" stroke-width="0.31" stroke-linejoin="round">−1</text>
<line x1="417.00" x2="417.00" y1="211.20" y2="214.20" stroke="#333" stroke-width="1"/>
<text transform="translate(414.95,223.20) scale(0.8103,1)" font-size="9.10" fill="#4D4D4D" stroke="#4D4D4D" stroke-width="0.31" stroke-linejoin="round">0</text>
<line x1="477.00" x2="477.00" y1="211.20" y2="214.20" stroke="#333" stroke-width="1"/>
<text transform="translate(474.95,223.20) scale(0.8103,1)" font-size="9.10" fill="#4D4D4D" stroke="#4D4D4D" stroke-width="0.31" stroke-linejoin="round">1</text>
<line x1="537.00" x2="537.00" y1="211.20" y2="214.20" stroke="#333" stroke-width="1"/>
<text transform="translate(534.95,223.20) scale(0.8103,1)" font-size="9.10" fill="#4D4D4D" stroke="#4D4D4D" stroke-width="0.31" stroke-linejoin="round">2</text>
<text transform="translate(331.30,10.05) scale(0.7901,1)" font-size="13.20" fill="#000" stroke="#000" stroke-width="0.45" stroke-linejoin="round">100cm</text>
<text transform="translate(366.10,10.05) scale(0.7516,1)" font-size="13.20" fill="#000" stroke="#000" stroke-width="0.45" stroke-linejoin="round">Max.</text>
<text transform="translate(392.20,10.05) scale(0.8320,1)" font-size="13.20" fill="#000" stroke="#000" stroke-width="0.45" stroke-linejoin="round">Depth</text>
<text transform="translate(335.50,239.30) scale(0.8526,1)" font-size="11.40" fill="#000" stroke="#000" stroke-width="0.42" stroke-linejoin="round">CENTURY</text>
<text transform="translate(383.20,239.30) scale(0.7731,1)" font-size="11.40" fill="#000" stroke="#000" stroke-width="0.42" stroke-linejoin="round">–</text>
<text transform="translate(389.00,239.30) scale(0.8595,1)" font-size="11.40" fill="#000" stroke="#000" stroke-width="0.42" stroke-linejoin="round">based</text>
<text transform="translate(419.40,239.30) scale(0.8566,1)" font-size="11.40" fill="#000" stroke="#000" stroke-width="0.42" stroke-linejoin="round">Emissions</text>
<text transform="translate(467.70,239.30) scale(0.8295,1)" font-size="11.40" fill="#000" stroke="#000" stroke-width="0.42" stroke-linejoin="round">Factor</text>
<text transform="translate(498.50,239.30) scale(0.8829,1)" font-size="11.40" fill="#000" stroke="#000" stroke-width="0.42" stroke-linejoin="round">(MgC</text>
<text transform="translate(527.30,239.30) scale(0.7881,1)" font-size="11.40" fill="#000" stroke="#000" stroke-width="0.42" stroke-linejoin="round">ha</text>
<text transform="translate(538.10,233.50) scale(0.8097,1)" font-size="7.80" fill="#000" stroke="#000" stroke-width="0.30" stroke-linejoin="round">−1</text>
<text transform="translate(548.60,239.30) scale(0.8319,1)" font-size="11.40" fill="#000" stroke="#000" stroke-width="0.42" stroke-linejoin="round">yr</text>
<text transform="translate(557.30,233.50) scale(0.8097,1)" font-size="7.80" fill="#000" stroke="#000" stroke-width="0.30" stroke-linejoin="round">−1</text>
<text transform="translate(565.70,239.30) scale(0.9483,1)" font-size="11.40" fill="#000" stroke="#000" stroke-width="0.42" stroke-linejoin="round">)</text>
<text transform="translate(302.30,114.90) rotate(-90)" font-size="11.4" fill="#000" text-anchor="middle" textLength="32.8" lengthAdjust="spacingAndGlyphs" stroke="#000" stroke-width="0.4">Density</text>
</g>
<text transform="translate(-0.90,10.15) scale(0.7481,1)" font-size="14.40" fill="#000" stroke="#000" stroke-width="0.45" stroke-linejoin="round">a</text>
<text transform="translate(292.60,10.15) scale(0.7744,1)" font-size="14.40" fill="#000" stroke="#000" stroke-width="0.45" stroke-linejoin="round">b</text>
<g stroke="#111" stroke-width="1.4" fill="none" stroke-linecap="round" stroke-linejoin="round">
<path d="M190.6,131.4 C181,118.5 168,107.5 144.4,108.5"/>
<path d="M150.0,105.6 L144.4,108.5 L149.4,112.1"/>
</g>
<text transform="translate(190.60,136.50) scale(0.7536,1)" font-size="6.50" fill="#000" stroke="#000" stroke-width="0.32" stroke-linejoin="round">CENTURY–based emissions</text>
<text transform="translate(190.60,144.70) scale(0.7685,1)" font-size="6.50" fill="#000" stroke="#000" stroke-width="0.32" stroke-linejoin="round">factors for conversion of &quot;cropland&quot;</text>
<text transform="translate(190.60,152.90) scale(0.7670,1)" font-size="6.50" fill="#000" stroke="#000" stroke-width="0.32" stroke-linejoin="round">and &quot;cropland–pasture&quot; to corn</text>
<text transform="translate(190.60,161.10) scale(0.7592,1)" font-size="6.50" fill="#000" stroke="#000" stroke-width="0.32" stroke-linejoin="round">are nearly identical and both</text>
<text transform="translate(190.60,169.30) scale(0.7565,1)" font-size="6.50" fill="#000" stroke="#000" stroke-width="0.32" stroke-linejoin="round">indicate sequestration.</text>
</g>
</svg>
</body></html>
